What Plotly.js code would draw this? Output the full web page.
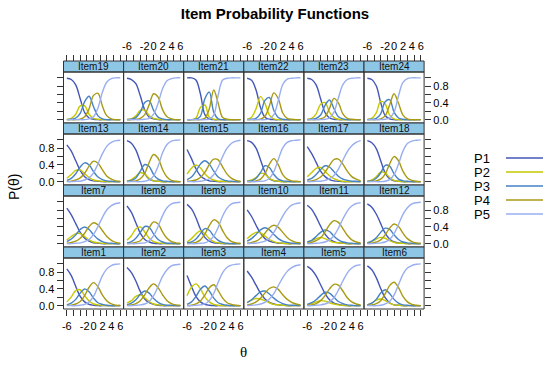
<!DOCTYPE html>
<html><head><meta charset="utf-8">
<script src="https://cdn.plot.ly/plotly-3.0.1.min.js"></script>
<style>html,body{margin:0;padding:0;background:#fff}#chart{width:550px;height:365px}</style>
</head><body><div id="chart"></div>
<script>
// theta grid (x values of every curve)
const theta = [-6,-5,-4,-3,-2,-1,0,1,2,3,4,5,6];
const categories = ['P1','P2','P3','P4','P5'];
const catColors = ['#4457b8','#c6c800','#4682c4','#a99a14','#98aef0'];
const xTickVals = [-6,-2,0,2,4,6];
const xTickText = ['-6','-2','0','2','4','6'];
const yTickVals = [0,0.4,0.8];
const yTickText = ['0.0','0.4','0.8'];
// panel order, top row first (as drawn)
const panelRows = [[19,20,21,22,23,24],[13,14,15,16,17,18],[7,8,9,10,11,12],[1,2,3,4,5,6]];

// P1..P5 read at theta = -6..6
const item1 = [[0.88,0.72,0.46,0.22,0.09,0.03,0.01,0,0,0,0,0,0],[0.09,0.21,0.36,0.38,0.24,0.11,0.04,0.02,0.01,0,0,0,0],[0.02,0.06,0.15,0.30,0.40,0.33,0.18,0.07,0.03,0.01,0,0,0],[0.01,0.01,0.04,0.10,0.24,0.44,0.55,0.45,0.25,0.11,0.04,0.01,0.01],[0,0,0,0.01,0.03,0.09,0.22,0.46,0.72,0.88,0.96,0.99,1.00]];
const item2 = [[0.91,0.79,0.59,0.34,0.16,0.07,0.03,0.01,0,0,0,0,0],[0.06,0.12,0.22,0.26,0.19,0.10,0.04,0.02,0.01,0,0,0,0],[0.02,0.06,0.14,0.27,0.35,0.30,0.17,0.08,0.03,0.01,0.01,0,0],[0.01,0.02,0.05,0.12,0.26,0.43,0.52,0.43,0.26,0.12,0.05,0.02,0.01],[0,0,0.01,0.02,0.04,0.10,0.24,0.46,0.70,0.86,0.95,0.98,0.99]];
const item3 = [[0.72,0.46,0.22,0.09,0.03,0.01,0,0,0,0,0,0,0],[0.24,0.44,0.52,0.40,0.21,0.09,0.03,0.01,0,0,0,0,0],[0.03,0.09,0.22,0.39,0.47,0.35,0.18,0.07,0.03,0.01,0,0,0],[0,0.01,0.04,0.11,0.25,0.43,0.50,0.36,0.18,0.07,0.03,0.01,0],[0,0,0.01,0.02,0.04,0.12,0.29,0.56,0.79,0.92,0.97,0.99,1.00]];
const item4 = [[0.83,0.68,0.49,0.30,0.16,0.08,0.04,0.02,0.01,0,0,0,0],[0.08,0.13,0.17,0.16,0.12,0.07,0.03,0.02,0.01,0,0,0,0],[0.07,0.14,0.24,0.33,0.35,0.28,0.18,0.10,0.05,0.02,0.01,0.01,0],[0.02,0.04,0.09,0.18,0.30,0.41,0.45,0.39,0.26,0.15,0.08,0.04,0.02],[0,0.01,0.02,0.04,0.08,0.16,0.29,0.48,0.67,0.82,0.91,0.96,0.98]];
const item5 = [[0.94,0.86,0.71,0.50,0.29,0.14,0.06,0.03,0.01,0,0,0,0],[0.02,0.05,0.09,0.12,0.11,0.07,0.04,0.02,0.01,0,0,0,0],[0.03,0.07,0.14,0.24,0.32,0.30,0.20,0.10,0.05,0.02,0.01,0,0],[0.01,0.02,0.05,0.12,0.24,0.40,0.51,0.49,0.35,0.19,0.09,0.04,0.02],[0,0,0.01,0.02,0.04,0.09,0.19,0.37,0.59,0.78,0.90,0.96,0.98]];
const item6 = [[0.95,0.86,0.67,0.41,0.19,0.07,0.02,0.01,0,0,0,0,0],[0.02,0.06,0.13,0.16,0.12,0.06,0.02,0.01,0,0,0,0,0],[0.02,0.06,0.15,0.30,0.38,0.29,0.15,0.06,0.02,0.01,0,0,0],[0.01,0.02,0.05,0.12,0.28,0.48,0.56,0.43,0.22,0.09,0.03,0.01,0],[0,0,0,0.01,0.04,0.10,0.25,0.50,0.75,0.90,0.96,0.99,1.00]];
const item7 = [[0.85,0.69,0.48,0.27,0.13,0.06,0.02,0.01,0,0,0,0,0],[0.09,0.17,0.24,0.24,0.17,0.09,0.04,0.02,0.01,0,0,0,0],[0.05,0.11,0.21,0.34,0.40,0.34,0.21,0.11,0.05,0.02,0.01,0,0],[0.01,0.03,0.06,0.13,0.25,0.41,0.50,0.45,0.31,0.17,0.08,0.03,0.01],[0,0,0.01,0.02,0.05,0.10,0.22,0.41,0.63,0.81,0.91,0.96,0.98]];
const item8 = [[0.90,0.75,0.50,0.25,0.10,0.04,0.01,0,0,0,0,0,0],[0.08,0.19,0.35,0.40,0.28,0.13,0.05,0.02,0.01,0,0,0,0],[0.02,0.05,0.13,0.27,0.41,0.39,0.23,0.10,0.04,0.01,0.01,0,0],[0,0.01,0.03,0.07,0.19,0.38,0.52,0.47,0.28,0.13,0.05,0.02,0.01],[0,0,0,0.01,0.02,0.07,0.19,0.41,0.67,0.86,0.95,0.98,0.99]];
const item9 = [[0.94,0.83,0.62,0.35,0.15,0.06,0.02,0.01,0,0,0,0,0],[0.04,0.12,0.23,0.31,0.24,0.12,0.05,0.02,0.01,0,0,0,0],[0.02,0.04,0.11,0.24,0.36,0.32,0.18,0.08,0.03,0.01,0,0,0],[0,0.01,0.03,0.09,0.23,0.43,0.57,0.51,0.31,0.14,0.05,0.02,0.01],[0,0,0,0.01,0.02,0.07,0.18,0.39,0.66,0.85,0.95,0.98,0.99]];
const item10 = [[0.81,0.65,0.44,0.25,0.12,0.06,0.03,0.01,0.01,0,0,0,0],[0.12,0.21,0.27,0.26,0.18,0.10,0.05,0.02,0.01,0,0,0,0],[0.06,0.12,0.22,0.33,0.38,0.33,0.22,0.12,0.06,0.03,0.01,0.01,0],[0.01,0.03,0.06,0.13,0.25,0.38,0.44,0.39,0.27,0.15,0.07,0.03,0.02],[0,0.01,0.01,0.03,0.06,0.13,0.27,0.46,0.66,0.82,0.92,0.96,0.98]];
const item11 = [[0.92,0.82,0.64,0.42,0.23,0.11,0.05,0.02,0.01,0,0,0,0],[0.04,0.07,0.12,0.15,0.12,0.07,0.03,0.02,0.01,0,0,0,0],[0.04,0.08,0.17,0.27,0.33,0.29,0.18,0.09,0.04,0.02,0.01,0,0],[0.01,0.03,0.07,0.14,0.28,0.45,0.55,0.51,0.36,0.20,0.09,0.04,0.02],[0,0,0.01,0.02,0.04,0.09,0.19,0.37,0.59,0.78,0.90,0.96,0.98]];
const item12 = [[0.95,0.87,0.71,0.48,0.25,0.11,0.04,0.02,0.01,0,0,0,0],[0.02,0.05,0.11,0.15,0.13,0.07,0.03,0.01,0.01,0,0,0,0],[0.02,0.06,0.14,0.27,0.37,0.34,0.21,0.10,0.04,0.02,0.01,0,0],[0.01,0.01,0.04,0.09,0.21,0.37,0.47,0.41,0.25,0.12,0.05,0.02,0.01],[0,0,0.01,0.02,0.04,0.10,0.24,0.46,0.70,0.86,0.95,0.98,0.99]];
const item13 = [[0.88,0.73,0.50,0.27,0.12,0.05,0.02,0.01,0,0,0,0,0],[0.08,0.17,0.27,0.28,0.19,0.10,0.04,0.02,0.01,0,0,0,0],[0.03,0.08,0.19,0.35,0.45,0.40,0.24,0.11,0.05,0.02,0.01,0,0],[0.01,0.01,0.04,0.09,0.20,0.37,0.49,0.44,0.28,0.13,0.06,0.02,0.01],[0,0,0.01,0.01,0.04,0.09,0.21,0.43,0.67,0.85,0.94,0.98,0.99]];
const item14 = [[0.98,0.92,0.76,0.47,0.19,0.06,0.02,0.01,0,0,0,0,0],[0.01,0.05,0.13,0.22,0.18,0.08,0.02,0.01,0,0,0,0,0],[0.01,0.03,0.09,0.25,0.41,0.36,0.17,0.06,0.02,0.01,0,0,0],[0,0.01,0.02,0.07,0.20,0.46,0.65,0.56,0.29,0.11,0.03,0.01,0],[0,0,0,0,0.01,0.04,0.14,0.37,0.69,0.89,0.97,0.99,1.00]];
const item15 = [[0.77,0.55,0.31,0.14,0.06,0.02,0.01,0,0,0,0,0,0],[0.18,0.32,0.40,0.33,0.19,0.09,0.04,0.01,0.01,0,0,0,0],[0.05,0.11,0.25,0.42,0.50,0.42,0.25,0.11,0.05,0.02,0.01,0,0],[0.01,0.02,0.04,0.10,0.22,0.41,0.54,0.52,0.35,0.18,0.08,0.03,0.01],[0,0,0,0.01,0.03,0.07,0.17,0.35,0.60,0.80,0.92,0.97,0.99]];
const item16 = [[0.98,0.94,0.80,0.52,0.23,0.07,0.02,0.01,0,0,0,0,0],[0.01,0.04,0.10,0.20,0.18,0.08,0.03,0.01,0,0,0,0,0],[0.01,0.02,0.08,0.22,0.38,0.34,0.17,0.06,0.02,0.01,0,0,0],[0,0,0.02,0.06,0.19,0.42,0.55,0.40,0.17,0.06,0.02,0.01,0],[0,0,0,0.01,0.02,0.08,0.24,0.53,0.81,0.94,0.98,0.99,1.00]];
const item17 = [[0.84,0.67,0.46,0.25,0.12,0.05,0.02,0.01,0,0,0,0,0],[0.12,0.22,0.32,0.34,0.25,0.14,0.07,0.03,0.01,0,0,0,0],[0.04,0.08,0.17,0.29,0.38,0.35,0.24,0.13,0.06,0.03,0.01,0.01,0],[0.01,0.02,0.05,0.11,0.23,0.39,0.53,0.54,0.42,0.25,0.12,0.06,0.02],[0,0,0.01,0.01,0.03,0.07,0.15,0.30,0.51,0.72,0.86,0.94,0.98]];
const item18 = [[0.98,0.93,0.79,0.50,0.21,0.07,0.02,0.01,0,0,0,0,0],[0.01,0.04,0.12,0.23,0.21,0.10,0.03,0.01,0,0,0,0,0],[0.01,0.02,0.08,0.21,0.39,0.37,0.19,0.06,0.02,0.01,0,0,0],[0,0.01,0.02,0.06,0.18,0.42,0.60,0.50,0.25,0.09,0.03,0.01,0],[0,0,0,0,0.01,0.05,0.17,0.42,0.73,0.91,0.97,0.99,1.00]];
const item19 = [[0.99,0.96,0.83,0.50,0.17,0.04,0.01,0,0,0,0,0,0],[0.01,0.03,0.13,0.33,0.33,0.13,0.03,0.01,0,0,0,0,0],[0,0.01,0.04,0.15,0.43,0.56,0.31,0.09,0.02,0,0,0,0],[0,0,0,0.01,0.07,0.26,0.58,0.63,0.32,0.09,0.02,0,0],[0,0,0,0,0,0.02,0.07,0.28,0.66,0.90,0.98,1.00,1.00]];
const item20 = [[0.99,0.96,0.86,0.57,0.23,0.06,0.02,0,0,0,0,0,0],[0.01,0.02,0.09,0.22,0.23,0.10,0.03,0.01,0,0,0,0,0],[0,0.01,0.05,0.18,0.41,0.45,0.22,0.06,0.02,0,0,0,0],[0,0,0.01,0.03,0.12,0.36,0.62,0.54,0.24,0.07,0.02,0,0],[0,0,0,0,0.01,0.03,0.13,0.39,0.74,0.93,0.98,1.00,1.00]];
const item21 = [[1.00,1.00,0.95,0.62,0.12,0.01,0,0,0,0,0,0,0],[0,0,0.04,0.29,0.35,0.06,0.01,0,0,0,0,0,0],[0,0,0.01,0.08,0.50,0.66,0.18,0.02,0,0,0,0,0],[0,0,0,0,0.03,0.26,0.71,0.39,0.05,0.01,0,0,0],[0,0,0,0,0,0.01,0.11,0.59,0.95,0.99,1.00,1.00,1.00]];
const item22 = [[0.99,0.94,0.71,0.29,0.06,0.01,0,0,0,0,0,0,0],[0.01,0.06,0.26,0.55,0.39,0.11,0.02,0,0,0,0,0,0],[0,0.01,0.03,0.15,0.46,0.53,0.22,0.05,0.01,0,0,0,0],[0,0,0,0.01,0.08,0.33,0.64,0.50,0.16,0.03,0.01,0,0],[0,0,0,0,0,0.02,0.12,0.46,0.84,0.97,0.99,1.00,1.00]];
const item23 = [[0.99,0.96,0.83,0.50,0.17,0.04,0.01,0,0,0,0,0,0],[0.01,0.03,0.14,0.37,0.41,0.18,0.05,0.01,0,0,0,0,0],[0,0.01,0.03,0.11,0.34,0.47,0.26,0.07,0.02,0,0,0,0],[0,0,0,0.02,0.07,0.27,0.51,0.40,0.14,0.03,0.01,0,0],[0,0,0,0,0.01,0.04,0.18,0.52,0.84,0.96,0.99,1.00,1.00]];
const item24 = [[0.99,0.96,0.81,0.41,0.10,0.02,0,0,0,0,0,0,0],[0.01,0.03,0.16,0.44,0.38,0.11,0.02,0,0,0,0,0,0],[0,0.01,0.03,0.14,0.43,0.48,0.18,0.04,0.01,0,0,0,0],[0,0,0,0.02,0.09,0.35,0.62,0.39,0.11,0.02,0,0,0],[0,0,0,0,0.01,0.04,0.18,0.57,0.89,0.98,1.00,1.00,1.00]];

const itemData = {1:item1,2:item2,3:item3,4:item4,5:item5,6:item6,7:item7,8:item8,9:item9,10:item10,11:item11,12:item12,13:item13,14:item14,15:item15,16:item16,17:item17,18:item18,19:item19,20:item20,21:item21,22:item22,23:item23,24:item24};

const W = 550, H = 365;
const boxL = 63.5, colW = 60.1, boxT = 61, rowH = 62, stripH = 11;
const FONT = 'Liberation Sans, Arial, Helvetica, sans-serif';
const frame = '#333333';
const stripFill = '#8ec6e6';

const data = [];
const shapes = [];
const annotations = [];
const layout = {
  width: W, height: H,
  margin: {l:0, r:0, t:0, b:0},
  paper_bgcolor: '#ffffff', plot_bgcolor: '#ffffff',
  showlegend: false,
  font: {family: FONT, color: '#000'},
  title: {text: '<b>Item Probability Functions</b>', font: {family: FONT, size: 15, color: '#000'},
          x: 0.5, xanchor: 'center', xref: 'paper', y: 1 - 14/H, yanchor: 'middle', yref: 'container'},
  shapes: shapes, annotations: annotations
};

function xTickStyle(show) {
  return {tickmode: 'array', tickvals: xTickVals, ticktext: xTickText, ticks: 'outside', ticklen: 7, tickangle: 0,
    tickcolor: 'rgba(0,0,0,0)', showticklabels: show, tickfont: {family: FONT, size: 11, color: '#000'},
    minor: {tickmode: 'array', tickvals: [-5.999,-4.5,-3,-1.5,0.001,1.5,3,4.5,5.999], ticks: 'outside', ticklen: 6, tickcolor: frame, tickwidth: 1}};
}
function yTickStyle(show) {
  return {tickmode: 'array', tickvals: yTickVals, ticktext: yTickText, ticks: 'outside', ticklen: 6,
    tickcolor: frame, tickwidth: 1, showticklabels: show, tickfont: {family: FONT, size: 11, color: '#000'},
    minor: {tickmode: 'array', tickvals: [0.2,0.6,1.0], ticks: 'outside', ticklen: 6, tickcolor: frame, tickwidth: 1}};
}

let k = 0;
panelRows.forEach((row, r) => {
  row.forEach((num, c) => {
    k++;
    const sfx = k === 1 ? '' : String(k);
    const xa = 'x' + sfx, ya = 'y' + sfx;
    const px0 = boxL + c*colW, px1 = boxL + (c+1)*colW;
    const sTop = boxT + r*rowH, pTop = sTop + stripH, pBot = sTop + rowH;
    const x0 = px0/W, x1 = px1/W;
    const yT = 1 - pTop/H, yB = 1 - pBot/H, yS = 1 - sTop/H;

    const vals = itemData[num];
    categories.forEach((cat, j) => {
      data.push({x: theta, y: vals[j], xaxis: xa, yaxis: ya, type: 'scatter', mode: 'lines', name: cat,
        line: {color: catColors[j], width: 1.4, shape: 'spline', smoothing: 1}, hoverinfo: 'skip', showlegend: false});
    });

    let xax = {domain: [x0, x1], range: [-6.75, 6.75], showgrid: false, zeroline: false, showline: false, fixedrange: true, anchor: ya};
    if (r === 0) {
      Object.assign(xax, xTickStyle(c % 2 === 1), {anchor: 'free', position: yS, side: 'top'});
    } else if (r === panelRows.length - 1) {
      Object.assign(xax, xTickStyle(c % 2 === 0), {side: 'bottom'});
    } else {
      Object.assign(xax, {ticks: '', showticklabels: false});
    }
    let yax = {domain: [yB, yT], range: [-0.08, 1.14], showgrid: false, zeroline: false, showline: false, fixedrange: true, anchor: xa};
    if (c === 0) {
      Object.assign(yax, yTickStyle(r % 2 === 1), {side: 'left'});
    } else if (c === row.length - 1) {
      Object.assign(yax, yTickStyle(r % 2 === 0), {side: 'right'});
    } else {
      Object.assign(yax, {ticks: '', showticklabels: false});
    }
    layout['xaxis' + sfx] = xax;
    layout['yaxis' + sfx] = yax;

    shapes.push({type: 'rect', xref: 'paper', yref: 'paper', x0: x0, x1: x1, y0: yT, y1: yS,
      fillcolor: stripFill, line: {color: frame, width: 1}, layer: 'above'});
    shapes.push({type: 'rect', xref: 'paper', yref: 'paper', x0: x0, x1: x1, y0: yB, y1: yT,
      fillcolor: 'rgba(0,0,0,0)', line: {color: frame, width: 1}, layer: 'above'});
    annotations.push({text: 'Item' + num, xref: 'paper', yref: 'paper', x: (x0+x1)/2, y: (yT+yS)/2,
      xanchor: 'center', yanchor: 'middle', showarrow: false, font: {family: FONT, size: 10, color: '#111'}});
  });
});

// axis labels
annotations.push({text: 'P(θ)', xref: 'paper', yref: 'paper', x: 14/W, y: 1 - 187/H, textangle: -90,
  xanchor: 'center', yanchor: 'middle', showarrow: false, font: {family: FONT, size: 14, color: '#000'}});
annotations.push({text: 'θ', xref: 'paper', yref: 'paper', x: 243/W, y: 1 - 352/H,
  xanchor: 'center', yanchor: 'middle', showarrow: false, font: {family: 'Liberation Serif, serif', size: 15, color: '#000'}});

// key (text then line sample)
categories.forEach((cat, j) => {
  const yy = 1 - (158 + j*14)/H;
  annotations.push({text: cat, xref: 'paper', yref: 'paper', x: 473/W, y: yy, xanchor: 'left', yanchor: 'middle',
    showarrow: false, borderpad: 0, font: {family: FONT, size: 13, color: '#000'}});
  shapes.push({type: 'line', xref: 'paper', yref: 'paper', x0: 506/W, x1: 543/W, y0: yy, y1: yy,
    line: {color: catColors[j], width: 1.6}});
});

Plotly.newPlot('chart', data, layout, {staticPlot: true, displayModeBar: false});
</script>
</body></html>
